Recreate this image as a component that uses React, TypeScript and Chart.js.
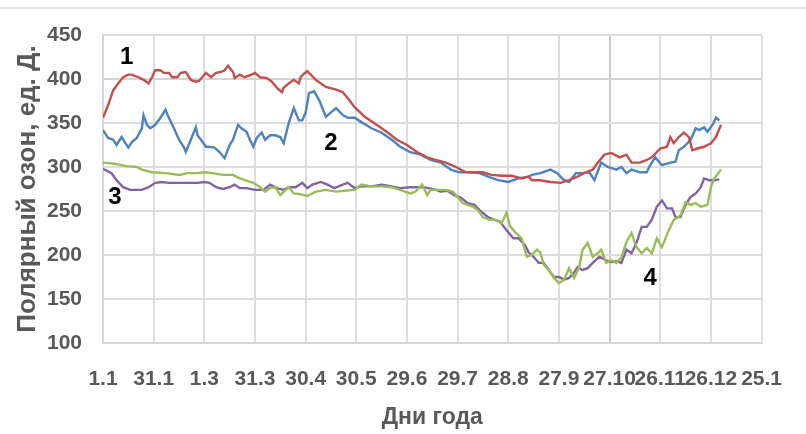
import React, { useEffect, useRef } from "react";
import { Chart, registerables } from "chart.js";

Chart.register(...registerables);

// X axis: day of year, tick every 30 days
const xTickLabels = ["1.1", "31.1", "1.3", "31.3", "30.4", "30.5", "29.6", "29.7", "28.8", "27.9", "27.10", "26.11", "26.12", "25.1"];
const xStep = 30;
const xMax = 390;
const yMin = 100;
const yMax = 450;
const yStep = 50;

// [day, ozone] pairs
const ozone1: [number, number][] = [
  [0, 356], [3, 370], [6, 387], [9, 395], [12, 402], [15, 405], [17, 405], [21, 402], [24, 399], [27, 395],
  [29, 402], [31, 410], [34, 410], [36, 407], [39, 407], [41, 402], [44, 402], [46, 407], [49, 408], [52, 399],
  [55, 397], [57, 398], [61, 407], [64, 402], [67, 407], [70, 408], [72, 410], [74, 415], [77, 408], [78, 401],
  [81, 405], [84, 402], [88, 405], [90, 407], [93, 402], [97, 401], [100, 397], [103, 390], [106, 385], [107, 390],
  [110, 395], [113, 399], [116, 395], [117, 402], [119, 406], [121, 409], [126, 399], [132, 391], [138, 388], [142, 385],
  [145, 378], [149, 368], [155, 357], [162, 348], [168, 340], [174, 331], [180, 325], [186, 317], [192, 311], [197, 308],
  [203, 305], [209, 300], [215, 294], [219, 294], [225, 294], [230, 291], [236, 290], [242, 290], [248, 287], [252, 289],
  [254, 285], [259, 285], [265, 283], [271, 282], [276, 285], [281, 289], [286, 294], [290, 297], [293, 305], [297, 314],
  [301, 316], [306, 311], [310, 314], [313, 305], [318, 305], [322, 308], [325, 311], [330, 321], [334, 323], [336, 334],
  [338, 327], [341, 334], [344, 339], [347, 334], [349, 319], [352, 321], [356, 323], [360, 327], [363, 334], [366, 348],
];

const ozone2: [number, number][] = [
  [0, 342], [3, 333], [6, 331], [8, 325], [11, 334], [13, 328], [15, 322], [17, 328], [20, 333], [23, 344],
  [24, 359], [26, 348], [28, 344], [31, 348], [34, 356], [37, 365], [39, 356], [42, 344], [45, 331], [48, 322],
  [49, 317], [52, 331], [55, 345], [56, 336], [58, 331], [61, 323], [62, 323], [66, 322], [69, 317], [72, 310],
  [75, 325], [77, 331], [80, 348], [82, 344], [85, 340], [87, 331], [89, 323], [91, 333], [94, 339], [96, 331],
  [99, 336], [102, 336], [105, 334], [107, 327], [110, 350], [113, 367], [116, 353], [118, 353], [120, 362], [122, 384],
  [125, 386], [128, 376], [132, 357], [135, 362], [138, 367], [142, 359], [145, 356], [149, 356], [153, 351], [159, 344],
  [165, 339], [171, 331], [176, 323], [182, 317], [188, 314], [194, 308], [200, 305], [206, 297], [211, 294], [217, 294],
  [223, 293], [228, 289], [234, 285], [240, 283], [246, 287], [252, 289], [254, 291], [259, 293], [265, 297], [269, 293],
  [273, 285], [276, 283], [280, 293], [284, 293], [288, 294], [291, 285], [295, 305], [299, 300], [304, 297], [307, 300],
  [310, 293], [313, 297], [318, 294], [322, 294], [324, 302], [327, 311], [331, 302], [336, 305], [339, 306], [341, 319],
  [344, 323], [348, 331], [351, 344], [353, 342], [356, 345], [358, 340], [361, 348], [363, 356], [365, 353],
];

const ozone3: [number, number][] = [
  [0, 305], [6, 304], [14, 301], [20, 300], [23, 297], [29, 294], [37, 293], [45, 291], [50, 293], [56, 293],
  [60, 294], [65, 293], [71, 291], [77, 291], [80, 288], [84, 285], [89, 282], [93, 277], [96, 272], [99, 276],
  [102, 277], [105, 268], [107, 272], [110, 277], [113, 270], [117, 269], [121, 267], [126, 272], [132, 274], [138, 272],
  [143, 273], [149, 274], [153, 280], [159, 278], [165, 278], [171, 277], [176, 274], [182, 270], [185, 272], [189, 280],
  [192, 268], [194, 274], [199, 274], [203, 274], [207, 272], [210, 266], [213, 259], [216, 257], [219, 255], [222, 251],
  [225, 243], [229, 240], [232, 240], [236, 236], [239, 248], [241, 233], [244, 226], [248, 219], [251, 198], [254, 200],
  [257, 206], [259, 203], [261, 189], [264, 183], [267, 174], [270, 168], [273, 172], [276, 185], [279, 174], [282, 186],
  [284, 206], [287, 214], [290, 198], [293, 202], [295, 206], [298, 191], [301, 194], [304, 191], [307, 197], [310, 215],
  [313, 225], [316, 209], [319, 202], [322, 208], [325, 202], [328, 219], [331, 209], [335, 228], [338, 240], [342, 245],
  [345, 260], [348, 257], [351, 259], [354, 255], [358, 257], [360, 277], [362, 287], [366, 297],
];

const ozone4: [number, number][] = [
  [0, 298], [5, 293], [8, 285], [12, 277], [16, 274], [20, 274], [23, 274], [27, 277], [31, 282], [35, 283],
  [39, 282], [45, 282], [50, 282], [56, 282], [60, 283], [63, 282], [67, 277], [71, 275], [75, 277], [78, 280],
  [81, 276], [85, 276], [90, 274], [95, 274], [99, 280], [103, 276], [107, 274], [110, 277], [114, 277], [118, 282],
  [121, 276], [124, 280], [129, 283], [133, 280], [137, 276], [142, 280], [145, 282], [149, 276], [153, 278], [159, 278],
  [165, 280], [171, 278], [176, 276], [182, 277], [185, 277], [189, 277], [193, 276], [197, 274], [200, 272], [204, 273],
  [208, 268], [212, 265], [216, 259], [220, 257], [223, 251], [228, 243], [232, 240], [235, 238], [239, 228], [243, 219],
  [246, 219], [250, 211], [252, 203], [255, 198], [258, 191], [261, 191], [264, 183], [267, 175], [270, 175], [273, 172],
  [276, 174], [279, 180], [281, 186], [284, 183], [287, 185], [290, 191], [294, 198], [298, 194], [301, 192], [304, 193],
  [307, 191], [310, 206], [313, 202], [316, 214], [319, 232], [322, 232], [325, 240], [328, 255], [331, 262], [334, 253],
  [337, 253], [339, 243], [342, 243], [345, 257], [348, 266], [351, 270], [354, 277], [356, 287], [359, 285], [362, 285],
  [365, 286],
];

const seriesNames = ["1", "2", "3", "4"];
const seriesData = [ozone1, ozone2, ozone3, ozone4];
const seriesColors = ["#c0504d", "#4f81bd", "#9bbb59", "#8064a2"];

const markerLabels = ["1", "2", "3", "4"];
const markerDays = [14, 135, 7, 324];
const markerValues = [425, 327, 265, 174];

const yTitle = "Полярный озон, ед. Д.";
const xTitle = "Дни года";

const FONT = "'Liberation Sans', Arial, sans-serif";
const TEXT_GREY = "#595959";

const markerPlugin = {
  id: "markers",
  afterDatasetsDraw(chart: any) {
    const { ctx, scales } = chart;
    const x = scales.x;
    const y = scales.y;
    ctx.save();
    ctx.font = `bold 24px ${FONT}`;
    ctx.fillStyle = "#000000";
    ctx.textAlign = "center";
    ctx.textBaseline = "middle";
    markerLabels.forEach((t, i) => {
      ctx.fillText(t, x.getPixelForValue(markerDays[i]), y.getPixelForValue(markerValues[i]));
    });
    ctx.restore();
  },
};

export default function App() {
  const canvasRef = useRef<HTMLCanvasElement | null>(null);

  useEffect(() => {
    const canvas = canvasRef.current;
    if (!canvas) return;
    const chart = new Chart(canvas, {
      type: "line",
      data: {
        datasets: seriesData.map((s, i) => ({
          label: seriesNames[i],
          data: s.map(([d, v]) => ({ x: d, y: v })),
          borderColor: seriesColors[i],
          backgroundColor: seriesColors[i],
          borderWidth: 2.4,
          pointRadius: 0,
          tension: 0,
          fill: false,
        })),
      },
      options: {
        responsive: false,
        animation: false,
        events: [],
        layout: { padding: { top: 35, right: 31, left: 0, bottom: 0 } },
        plugins: {
          legend: { display: false },
          tooltip: { enabled: false },
        },
        scales: {
          x: {
            type: "linear",
            min: 0,
            max: xMax,
            afterFit: (s: any) => {
              s.height = 91;
            },
            afterBuildTicks: (s: any) => {
              s.ticks = xTickLabels.map((_, i) => ({ value: i * xStep }));
            },
            ticks: {
              stepSize: xStep,
              autoSkip: false,
              maxRotation: 0,
              minRotation: 0,
              padding: 24,
              color: TEXT_GREY,
              font: { family: FONT, size: 21, weight: "bold" },
              callback: (v: any) => {
                const idx = Math.round(Number(v) / xStep);
                return xTickLabels[idx] ?? "";
              },
            },
            grid: {
              drawTicks: false,
              lineWidth: 2,
              color: (c: any) => (c.tick && c.tick.value === 300 ? "#cccccc" : "#dddddd"),
            },
            border: { color: "#d6d6d6", width: 2 },
            title: {
              display: true,
              text: xTitle,
              color: TEXT_GREY,
              font: { family: FONT, size: 23, weight: "bold" },
              padding: { top: 0, bottom: 3 },
            },
          },
          y: {
            min: yMin,
            max: yMax,
            afterFit: (s: any) => {
              s.width = 103;
            },
            ticks: {
              stepSize: yStep,
              padding: 21,
              color: TEXT_GREY,
              font: { family: FONT, size: 21, weight: "bold" },
            },
            grid: {
              drawTicks: false,
              lineWidth: 2,
              color: (c: any) => (c.tick && c.tick.value === 400 ? "#d4d4d4" : "#dddddd"),
            },
            border: { color: "#d6d6d6", width: 2 },
            title: {
              display: true,
              text: yTitle,
              color: TEXT_GREY,
              font: { family: FONT, size: 26, weight: "bold" },
              padding: { top: 12, bottom: 0 },
            },
          },
        },
      },
      plugins: [markerPlugin],
    });
    return () => chart.destroy();
  }, []);

  return (
    <div style={{ position: "fixed", left: 0, top: 0, width: 806, height: 434, background: "#ffffff" }}>
      <div style={{ position: "absolute", left: 0, top: 7, width: 806, height: 0, borderTop: "2px solid #e3e3e3" }} />
      <canvas ref={canvasRef} width={806} height={434} style={{ position: "absolute", left: 0, top: 0, width: 806, height: 434 }} />
    </div>
  );
}
